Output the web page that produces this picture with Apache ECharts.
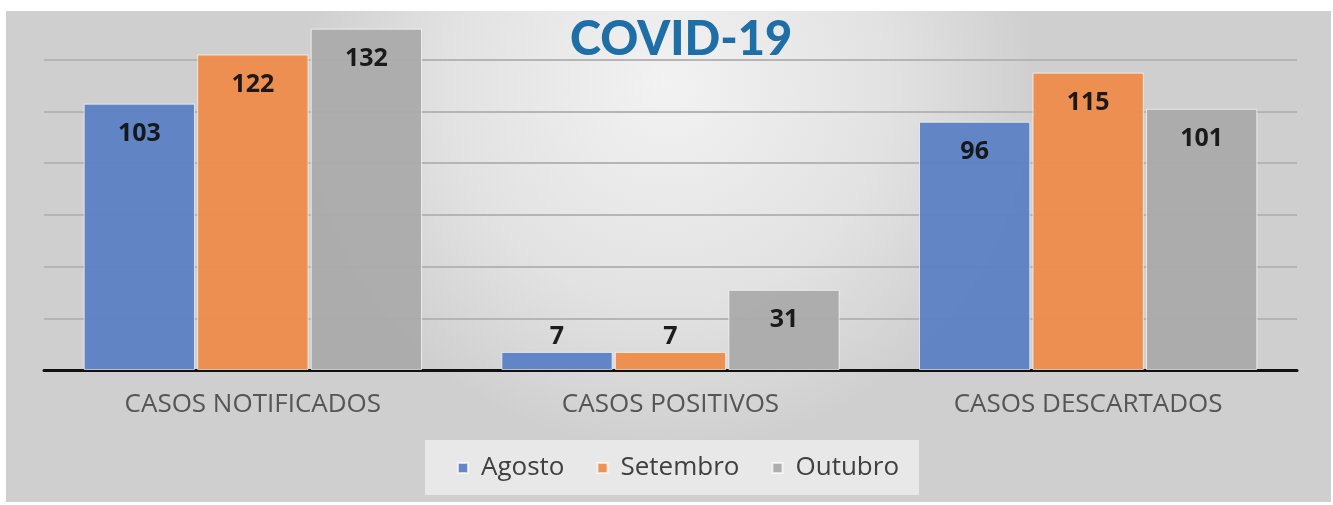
<!DOCTYPE html>
<html>
<head>
<meta charset="utf-8">
<style>
  html, body { margin: 0; padding: 0; background: #fff; }
  #chart { width: 1333px; height: 505px; }
</style>
<script src="https://cdn.jsdelivr.net/npm/echarts@6/dist/echarts.min.js"></script>
</head>
<body>
<div id="chart"></div>
<script>
// categorias e valores
const categories = ['CASOS NOTIFICADOS', 'CASOS POSITIVOS', 'CASOS DESCARTADOS']
const agosto = [103, 7, 96]
const setembro = [122, 7, 115]
const outubro = [132, 31, 101]
const seriesNames = ['Agosto', 'Setembro', 'Outubro']
const colors = ['#5a80c4', '#ee8b48', '#aaaaaa']

const chart = echarts.init(document.getElementById('chart'))

// barras pequenas ficam com o rótulo por cima
function toData(list) {
  return list.map(function(v) {
    if (v < 20) {
      return { value: v, label: { position: 'top', distance: 3 } }
    }
    return v
  })
}

function barSeries(name, list, color) {
  return {
    name: name,
    type: 'bar',
    data: toData(list),
    barGap: '2%',
    barCategoryGap: '19%',
    itemStyle: {
      color: color,
      opacity: 0.94,
      borderColor: 'rgba(255,255,255,0.7)',
      borderWidth: 1
    },
    label: {
      show: true,
      position: 'insideTop',
      distance: 18,
      color: '#111',
      fontFamily: 'Open Sans',
      fontWeight: 'bold',
      fontSize: 25
    }
  }
}

chart.setOption({
  animation: false,
  backgroundColor: '#fff',
  graphic: [
    {
      type: 'rect',
      z: -100,
      shape: { x: 6, y: 11, width: 1325, height: 491 },
      style: {
        fill: new echarts.graphic.RadialGradient(0.5, 0.15, 0.75, [
          { offset: 0, color: '#f2f2f2' },
          { offset: 0.6, color: '#e2e2e2' },
          { offset: 1, color: '#cfcfcf' }
        ])
      }
    }
  ],
  title: {
    text: 'COVID-19',
    left: 565,
    top: 11,
    textStyle: {
      fontFamily: 'Lato',
      fontWeight: 900,
      fontSize: 47,
      color: '#1e6ea7'
    }
  },
  legend: {
    data: seriesNames,
    top: 440,
    left: 425,
    backgroundColor: '#e8e8e8',
    padding: [15, 20, 14, 32],
    itemGap: 32,
    itemWidth: 10,
    itemHeight: 10,
    icon: 'rect',
    textStyle: {
      fontFamily: 'Open Sans',
      fontSize: 26,
      color: '#404040',
      padding: [0, 0, 0, 8]
    }
  },
  grid: {
    left: 44,
    right: 36,
    top: 8,
    bottom: 135
  },
  xAxis: {
    type: 'category',
    data: categories,
    axisTick: { show: false },
    axisLine: { lineStyle: { color: '#111', width: 3 } },
    axisLabel: {
      margin: 22,
      fontFamily: 'Open Sans',
      fontSize: 26,
      color: '#555'
    }
  },
  yAxis: {
    type: 'value',
    min: 0,
    max: 140,
    interval: 20,
    axisLabel: { show: false },
    axisLine: { show: false },
    axisTick: { show: false },
    splitLine: {
      lineStyle: {
        color: ['#b5b5b5', '#b5b5b5', '#b5b5b5', '#b5b5b5', '#b5b5b5', '#b5b5b5', '#b5b5b5', 'transparent'],
        width: 2
      }
    }
  },
  series: [
    barSeries(seriesNames[0], agosto, colors[0]),
    barSeries(seriesNames[1], setembro, colors[1]),
    barSeries(seriesNames[2], outubro, colors[2])
  ]
})
</script>
</body>
</html>
